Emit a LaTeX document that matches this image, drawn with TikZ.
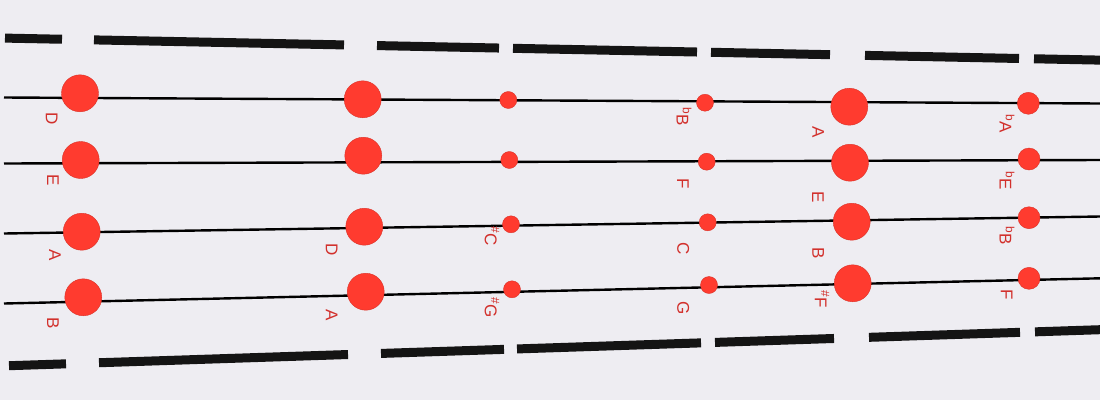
\documentclass[tikz,border=0pt]{standalone}
\usepackage{fontspec}
\setmainfont{Liberation Sans}
\usepackage{xcolor}
\usepackage{tikz}
\definecolor{paper}{HTML}{EEEDF2}
\definecolor{dotred}{HTML}{FF3B2F}
\definecolor{notered}{HTML}{D2302C}
\tikzset{
  stringline/.style={black,line width=2.4pt},
  fretbar/.style={black!92,line width=9pt},
  fingerdot/.style={circle,fill=dotred,draw=dotred!85!black,line width=0.4pt,inner sep=0pt},
  bigdot/.style={fingerdot,minimum size=37pt},
  middot/.style={fingerdot,minimum size=22pt},
  smalldot/.style={fingerdot,minimum size=17pt},
  notelbl/.style={text=notered,font=\fontsize{17}{17}\selectfont,rotate=-90,inner sep=0pt},
}
\newcommand{\shp}{\textsuperscript{\#}}
\newcommand{\flt}{\textsuperscript{b}}

\begin{document}
\begin{tikzpicture}[x=1pt,y=-1pt]

\fill[paper] (0,0) rectangle (1100,400);
\useasboundingbox (0,0) rectangle (1100,400);

% --- bars along both edges ---
\foreach \a/\b in {5/62, 94/344, 377/499, 513/697, 711/830, 865/1019, 1034/1100}
  \draw[fretbar] (\a,{38+0.0201*\a}) -- (\b,{38+0.0201*\b});
\foreach \a/\b in {9/66, 99/348, 381/504, 517/701, 715/834, 869/1020, 1035/1100}
  \draw[fretbar] (\a,{366-0.033*\a}) -- (\b,{366-0.033*\b});

% --- the four strings ---
\coordinate (s1w) at (4,97.5);   \coordinate (s1e) at (1100,103.5);
\coordinate (s2w) at (4,163.5);  \coordinate (s2e) at (1100,160);
\coordinate (s3w) at (4,233.5);  \coordinate (s3e) at (1100,216.5);
\coordinate (s4w) at (4,303.5);  \coordinate (s4e) at (1100,278.3);
\foreach \s in {1,2,3,4}
  \draw[stringline] (s\s w) -- (s\s e);

% --- finger dots ---
\foreach \n/\x/\y in {d1a/80/93.3, d2a/80.7/160, d3a/81.7/231.7, d4a/83.3/297.3,
                      d1b/362.7/99.3, d2b/363.3/155.7, d3b/364.3/226.7, d4b/365.7/291.7,
                      d1e/849.3/106.7, d2e/850/162.7, d3e/851.7/221.7, d4e/852.7/283.3}
  \node[bigdot] (\n) at (\x,\y) {};
\foreach \n/\x/\y in {d1c/508.3/100, d2c/509.3/160, d3c/511/224.3, d4c/512/289.3,
                      d1d/705/102.7, d2d/706.7/161.7, d3d/707.7/222.3, d4d/709/285}
  \node[smalldot] (\n) at (\x,\y) {};
\foreach \n/\x/\y in {d1f/1028.3/103.3, d2f/1029/159, d3f/1029/217.7, d4f/1029/278.3}
  \node[middot] (\n) at (\x,\y) {};

% --- note names ---
\foreach \n/\x/\y/\t in {l1a/51.7/118.3/D, l2a/53/180/E, l3a/55/255/A, l4a/53/323/B,
                         l3b/331.7/250/D, l4b/331.7/315/A,
                         l3c/492/236/{\shp C}, l4c/492/307.5/{\shp G},
                         l1d/684/117/{\flt B}, l2d/683/183.3/F, l3d/683.3/248.3/C, l4d/683.3/308.3/G,
                         l1e/818.3/131.7/A, l2e/818/196.7/E, l3e/818.3/253.3/B, l4e/822/299/{\shp F},
                         l1f/1007/124/{\flt A}, l2f/1007/181/{\flt E}, l3f/1007/236/{\flt B}, l4f/1006.7/295/F}
  \node[notelbl] (\n) at (\x,\y) {\t};

\end{tikzpicture}
\end{document}
